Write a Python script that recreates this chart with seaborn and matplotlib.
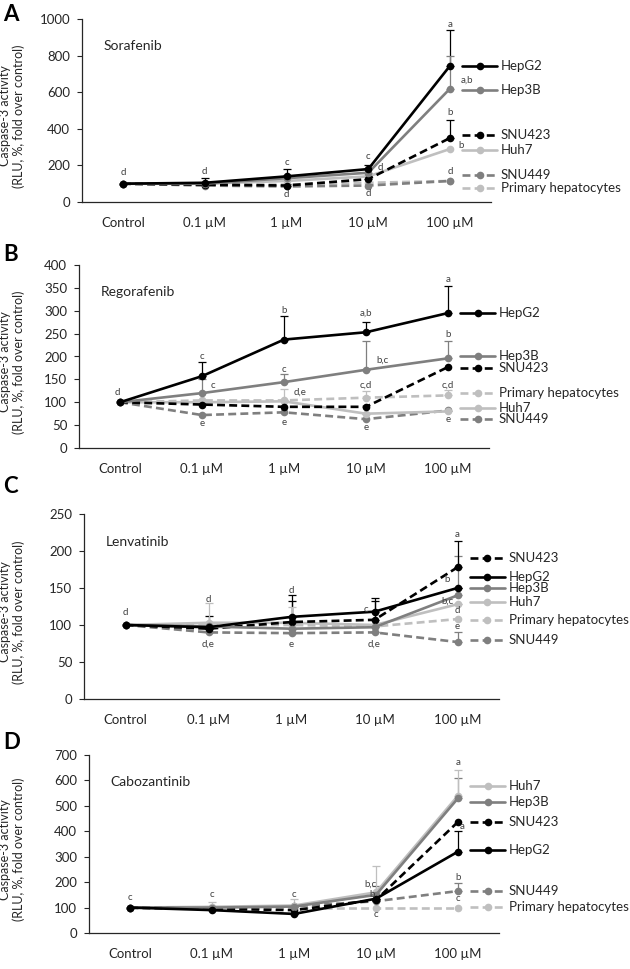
import matplotlib
matplotlib.use("Agg")
import matplotlib.pyplot as plt
import pandas as pd
import seaborn as sns

doses = ["Control", "0.1 µM", "1 µM", "10 µM", "100 µM"]
cells = ["HepG2", "Hep3B", "SNU423", "Huh7", "SNU449", "Primary hepatocytes"]

# A - Sorafenib
sora_hepg2 = [100, 105, 140, 180, 745]
sora_hep3b = [100, 100, 130, 160, 620]
sora_snu423 = [100, 95, 90, 125, 350]
sora_huh7 = [100, 100, 115, 140, 290]
sora_snu449 = [100, 90, 85, 90, 115]
sora_primary = [100, 95, 95, 105, 115]
sora_err_hepg2 = [0, 25, 40, 20, 195]
sora_err_hep3b = [0, 10, 20, 20, 180]
sora_err_snu423 = [0, 5, 10, 15, 100]

# B - Regorafenib
rego_hepg2 = [100, 157, 237, 253, 295]
rego_hep3b = [100, 120, 144, 171, 196]
rego_snu423 = [100, 95, 90, 90, 177]
rego_huh7 = [100, 100, 102, 75, 80]
rego_snu449 = [100, 72, 78, 63, 82]
rego_primary = [100, 104, 104, 110, 115]
rego_err_hepg2 = [0, 30, 51, 23, 60]
rego_err_hep3b = [0, 30, 17, 63, 37]
rego_err_huh7 = [0, 0, 28, 0, 0]
rego_err_primary = [0, 0, 0, 15, 12]

# C - Lenvatinib
lenva_hepg2 = [100, 97, 111, 118, 150]
lenva_hep3b = [100, 98, 95, 97, 140]
lenva_snu423 = [100, 95, 104, 107, 178]
lenva_huh7 = [100, 103, 103, 100, 128]
lenva_snu449 = [100, 90, 89, 90, 77]
lenva_primary = [100, 100, 100, 98, 108]
lenva_err_hepg2 = [0, 0, 29, 18, 0]
lenva_err_hep3b = [0, 0, 0, 0, 53]
lenva_err_snu423 = [0, 17, 28, 25, 36]
lenva_err_huh7 = [0, 27, 22, 0, 0]
lenva_err_snu449 = [0, 0, 0, 0, 13]

# D - Cabozantinib
cabo_hepg2 = [100, 90, 75, 135, 320]
cabo_hep3b = [100, 100, 104, 150, 530]
cabo_snu423 = [100, 95, 90, 130, 437]
cabo_huh7 = [100, 103, 108, 160, 540]
cabo_snu449 = [100, 100, 105, 125, 165]
cabo_primary = [100, 100, 100, 100, 100]
cabo_err_hepg2 = [0, 0, 0, 0, 80]
cabo_err_hep3b = [0, 0, 0, 35, 80]
cabo_err_huh7 = [0, 20, 24, 102, 102]
cabo_err_snu449 = [0, 0, 0, 0, 30]

# statistical letters: (dose index, y, text, x shift)
sora_letters = [(0, 160, "d", 0), (1, 165, "d", 0), (2, 215, "c", 0), (2, 40, "d", 0),
                (3, 250, "c", 0), (3, 188, "d", 0.15), (3, 45, "d", 0),
                (4, 970, "a", 0), (4, 668, "a,b", 0.2), (4, 487, "b", 0),
                (4, 308, "b", 0.14), (4, 165, "d", 0)]
rego_letters = [(0, 122, "d", -0.03), (1, 199, "c", 0), (1, 137, "c", 0.13), (1, 53, "e", 0),
                (2, 300, "b", 0), (2, 171, "c", 0), (2, 122, "d,e", 0.2), (2, 55, "e", 0),
                (3, 295, "a,b", 0), (3, 193, "b,c", 0.2), (3, 137, "c,d", 0), (3, 44, "e", 0),
                (4, 369, "a", 0), (4, 249, "b", 0), (4, 137, "c,d", 0), (4, 62, "e", 0)]
lenva_letters = [(0, 117, "d", 0), (1, 135, "d", 0), (1, 74, "d,e", 0),
                 (2, 146, "d", 0), (2, 74, "e", 0), (3, 121, "c", -0.1), (3, 74, "d,e", 0),
                 (4, 222, "a", 0), (4, 162, "b", -0.13), (4, 132, "b,c", -0.12),
                 (4, 119, "d", 0), (4, 98, "e", 0)]
cabo_letters = [(0, 140, "c", 0), (1, 150, "c", 0), (2, 150, "c", 0),
                (3, 193, "b,c", -0.07), (3, 153, "b", -0.05), (3, 72, "c", 0),
                (4, 672, "a", 0), (4, 417, "a", 0.05), (4, 217, "b", 0), (4, 134, "c", 0)]

# legend key heights (data units), per panel, in cells order
sora_key_y = [742, 611, 367, 286, 150, 78]
rego_key_y = [295, 202, 175, 88, 63, 121]
lenva_key_y = [165, 150, 190, 131, 80, 107]
cabo_key_y = [325, 517, 436, 579, 165, 102]

colors = {"HepG2": "#000000", "Hep3B": "#7f7f7f", "SNU423": "#000000",
          "Huh7": "#bfbfbf", "SNU449": "#7f7f7f", "Primary hepatocytes": "#bfbfbf"}
dashes = {"HepG2": "", "Hep3B": "", "SNU423": (3, 1.6),
          "Huh7": "", "SNU449": (3, 1.6), "Primary hepatocytes": (3, 1.6)}

panels = [
    dict(letter="A", drug="Sorafenib", ymax=1000, step=200,
         vals=[sora_hepg2, sora_hep3b, sora_snu423, sora_huh7, sora_snu449, sora_primary],
         errs={"HepG2": sora_err_hepg2, "Hep3B": sora_err_hep3b, "SNU423": sora_err_snu423},
         letters=sora_letters, key_y=sora_key_y, box=(82, 491, 19, 202), lbl_base=21),
    dict(letter="B", drug="Regorafenib", ymax=400, step=50,
         vals=[rego_hepg2, rego_hep3b, rego_snu423, rego_huh7, rego_snu449, rego_primary],
         errs={"HepG2": rego_err_hepg2, "Hep3B": rego_err_hep3b, "Huh7": rego_err_huh7,
               "Primary hepatocytes": rego_err_primary},
         letters=rego_letters, key_y=rego_key_y, box=(79, 489, 265, 448), lbl_base=261),
    dict(letter="C", drug="Lenvatinib", ymax=250, step=50,
         vals=[lenva_hepg2, lenva_hep3b, lenva_snu423, lenva_huh7, lenva_snu449, lenva_primary],
         errs={"HepG2": lenva_err_hepg2, "Hep3B": lenva_err_hep3b, "SNU423": lenva_err_snu423,
               "Huh7": lenva_err_huh7, "SNU449": lenva_err_snu449},
         letters=lenva_letters, key_y=lenva_key_y, box=(84, 499, 514, 699), lbl_base=493),
    dict(letter="D", drug="Cabozantinib", ymax=700, step=100,
         vals=[cabo_hepg2, cabo_hep3b, cabo_snu423, cabo_huh7, cabo_snu449, cabo_primary],
         errs={"HepG2": cabo_err_hepg2, "Hep3B": cabo_err_hep3b, "Huh7": cabo_err_huh7,
               "SNU449": cabo_err_snu449},
         letters=cabo_letters, key_y=cabo_key_y, box=(89, 499, 755, 933), lbl_base=749),
]

sns.set_theme(style="ticks")
plt.rcParams["font.family"] = ["Lato", "DejaVu Sans"]

W, H = 630, 969
fig = plt.figure(figsize=(W / 100, H / 100), dpi=100)
text_col = "#262626"

for p in panels:
    x0, x1, y0, y1 = p["box"]
    ax = fig.add_axes([x0 / W, 1 - y1 / H, (x1 - x0) / W, (y1 - y0) / H])

    df = pd.DataFrame({
        "dose": doses * len(cells),
        "value": [v for vals in p["vals"] for v in vals],
        "cell": [c for c in cells for _ in doses],
    })
    order = cells[::-1]
    sns.lineplot(data=df, x="dose", y="value", hue="cell", style="cell",
                 hue_order=order, style_order=order, palette=colors, dashes=dashes,
                 markers={c: "o" for c in cells}, markersize=5.5, markeredgewidth=0,
                 linewidth=1.9, sort=False, legend=False, ax=ax)

    # upper error bars
    for cell, err in p["errs"].items():
        vals = p["vals"][cells.index(cell)]
        ax.errorbar(range(len(doses)), vals, yerr=[[0] * len(err), err], fmt="none",
                    ecolor=colors[cell], elinewidth=0.9, capsize=2.8, capthick=0.9, zorder=1)

    # inline legend keys
    for cell, ky in zip(cells, p["key_y"]):
        ax.plot([4.15, 4.57], [ky, ky], color=colors[cell], lw=1.9, clip_on=False,
                dashes=dashes[cell] if dashes[cell] else (None, None))
        ax.plot([4.36], [ky], "o", color=colors[cell], ms=5.5, mew=0, clip_on=False)
        ax.text(4.62, ky, cell, fontsize=9.5, color=text_col, va="center", ha="left")

    for i, y, t, dx in p["letters"]:
        ax.text(i + dx, y, t, fontsize=7, color="#404040", ha="center", va="center")

    ax.set_xlim(-0.5, 4.5)
    ax.set_ylim(0, p["ymax"])
    ax.set_yticks(range(0, p["ymax"] + 1, p["step"]))
    ax.set_xlabel("")
    ax.set_ylabel("Caspase-3 activity\n(RLU, %, fold over control)", fontsize=9,
                  color=text_col, linespacing=1.15)
    ax.yaxis.set_label_coords((25 - x0) / (x1 - x0), 0.47)
    ax.tick_params(axis="x", length=0, pad=11, labelsize=9.5, colors=text_col)
    ax.tick_params(axis="y", length=3.5, width=0.8, pad=5, labelsize=9.5,
                   colors=text_col, direction="out")
    for s in ["top", "right"]:
        ax.spines[s].set_visible(False)
    for s in ["left", "bottom"]:
        ax.spines[s].set_color("#262626")
        ax.spines[s].set_linewidth(0.9)
    ax.text(0.052, 0.85, p["drug"], transform=ax.transAxes, fontsize=10,
            color=text_col, va="center", ha="left")
    fig.text(3 / W, 1 - p["lbl_base"] / H, p["letter"], fontsize=16, fontweight="bold",
             va="baseline", ha="left", color="#000000")

fig.savefig("out.png", dpi=100)
